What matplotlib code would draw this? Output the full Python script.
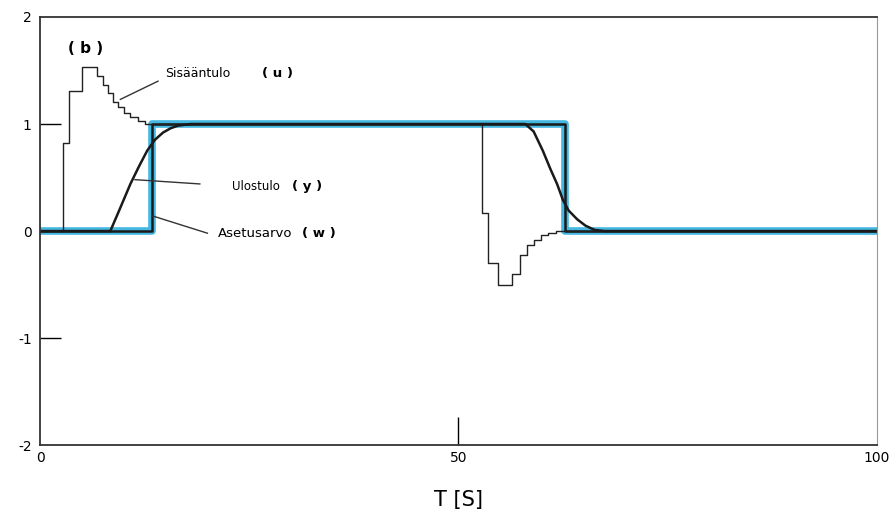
import matplotlib
matplotlib.use("Agg")
import matplotlib.pyplot as plt

# Setpoint w (Asetusarvo) - step series
w_t = [0, 13.4, 62.7, 100]
w_v = [0, 1, 0, 0]

# Input u (Sisääntulo) - step series (post)
u_t = [0, 2.75, 3.5, 5.0, 6.8, 7.5, 8.1, 8.7, 9.3, 10.0, 10.75, 11.7, 12.5,
       52.8, 53.5, 54.7, 56.4, 57.4, 58.2, 59.0, 59.9, 60.7, 61.7, 100]
u_v = [0, 0.82, 1.31, 1.53, 1.45, 1.36, 1.29, 1.21, 1.16, 1.10, 1.07, 1.03, 1.0,
       0.17, -0.30, -0.50, -0.40, -0.22, -0.13, -0.08, -0.04, -0.02, 0.0, 0.0]

# Output y (Ulostulo)
y_t = [0, 8.4, 9.5, 10.8, 11.8, 12.8, 13.7, 14.7, 15.6, 16.5, 18.0,
       58.0, 59.0, 60.1, 61.0, 61.8, 62.5, 63.2, 64.2, 65.2, 66.3, 67.5, 100]
y_v = [0, 0, 0.2, 0.44, 0.6, 0.75, 0.85, 0.92, 0.96, 0.985, 1.0,
       1.0, 0.93, 0.75, 0.58, 0.44, 0.29, 0.19, 0.11, 0.05, 0.01, 0.0, 0.0]

x_ticks = [0, 50, 100]
y_ticks = [-2, -1, 0, 1, 2]

fig = plt.figure(figsize=(8.9, 5.14), dpi=100)
ax = fig.add_axes([0.045, 0.134, 0.94, 0.833])

ax.step(w_t, w_v, where="post", color="#45b8e2", lw=5.5, solid_capstyle="butt")
ax.step(w_t, w_v, where="post", color="#1a1a1a", lw=1.8)
ax.step(u_t, u_v, where="post", color="#222222", lw=1.0)
ax.plot(y_t, y_v, color="#1a1a1a", lw=1.8)

ax.set_xlim(0, 100)
ax.set_ylim(-2, 2)
ax.set_xticks(x_ticks)
ax.set_yticks(y_ticks)
ax.set_xticklabels([str(v) for v in x_ticks])
ax.set_yticklabels([str(v) for v in y_ticks])
ax.tick_params(axis="y", direction="in", length=15, width=1, labelsize=10, pad=6)
ax.tick_params(axis="x", direction="in", length=20, width=1, labelsize=10, pad=4)
for i in (0, -1):
    ax.xaxis.get_major_ticks()[i].tick1line.set_visible(False)
    ax.yaxis.get_major_ticks()[i].tick1line.set_visible(False)
for s in ax.spines.values():
    s.set_linewidth(1.3)
    s.set_color("#333333")
ax.spines["right"].set_color("#999999")
ax.spines["right"].set_linewidth(0.8)

ax.set_xlabel("T [S]", fontsize=15, labelpad=18)

ax.text(5.4, 1.71, "( b )", fontsize=11, fontweight="bold", ha="center", va="center")
ax.text(14.9, 1.47, "Sisääntulo", fontsize=9, ha="left", va="center")
ax.text(26.5, 1.47, "( u )", fontsize=9.5, fontweight="bold", ha="left", va="center")
ax.plot([14.1, 9.6], [1.40, 1.23], color="#333333", lw=1.0)

ax.text(22.9, 0.42, "Ulostulo", fontsize=8.5, ha="left", va="center")
ax.text(30.1, 0.42, "( y )", fontsize=9.5, fontweight="bold", ha="left", va="center")
ax.plot([11.35, 19.1], [0.48, 0.44], color="#333333", lw=1.0)

ax.text(21.3, -0.02, "Asetusarvo", fontsize=9.5, ha="left", va="center")
ax.text(31.3, -0.02, "( w )", fontsize=9.5, fontweight="bold", ha="left", va="center")
ax.plot([13.5, 20.0], [0.14, -0.02], color="#333333", lw=1.0)

fig.savefig("out.png", dpi=100)
